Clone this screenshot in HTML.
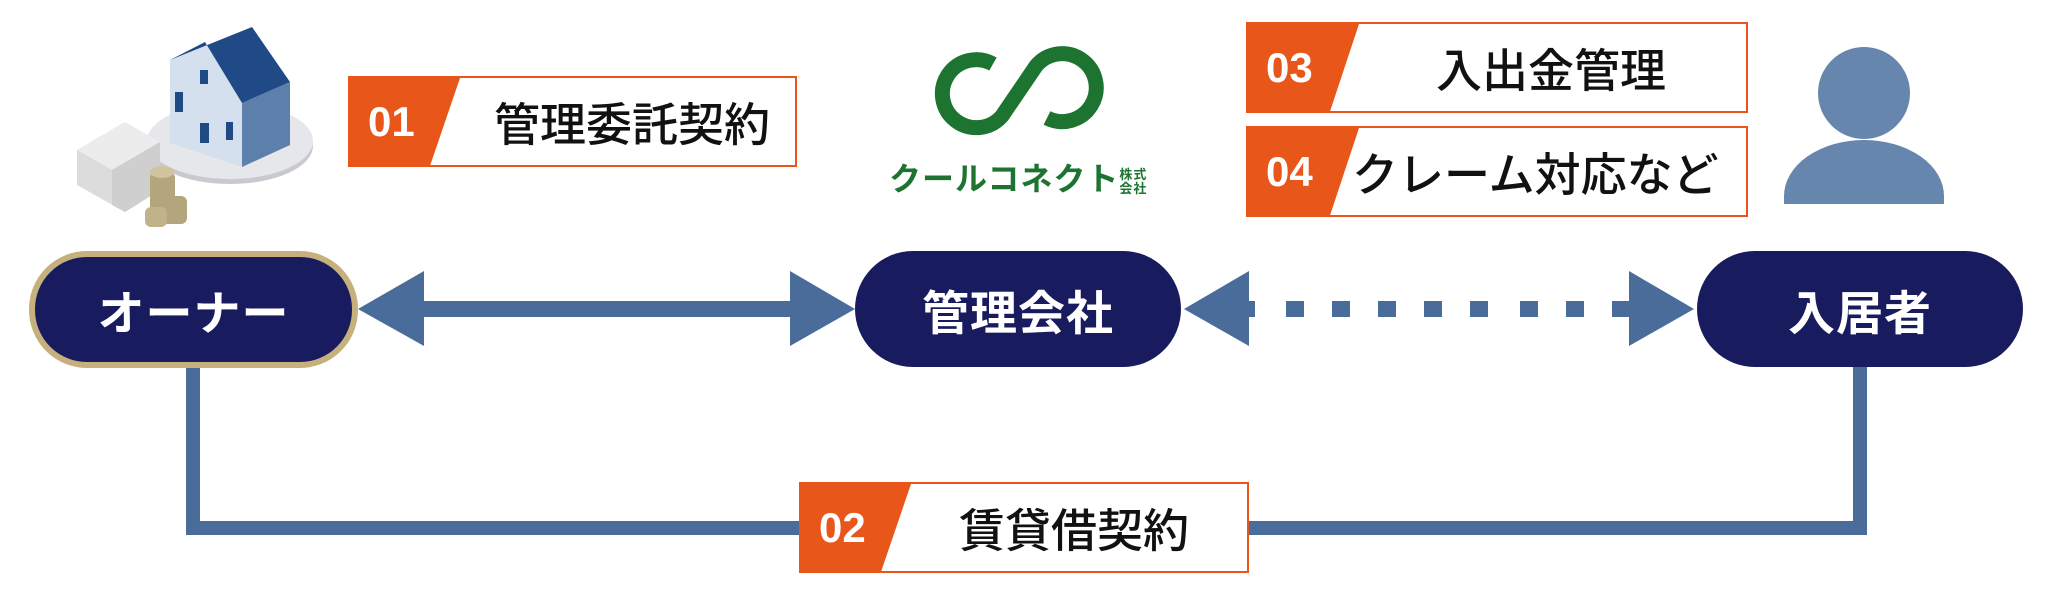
<!DOCTYPE html>
<html><head><meta charset="utf-8"><style>
*{margin:0;padding:0;box-sizing:border-box}
body{width:2048px;height:591px;background:#fff;position:relative;overflow:hidden;font-family:"Liberation Sans","Noto Sans CJK JP",sans-serif}
.pill{position:absolute;background:#181c5e;border-radius:58px;color:#fff;font-weight:bold;font-size:47px;display:flex;align-items:center;justify-content:center;letter-spacing:1px}
.box{position:absolute;border:2px solid #e8561a;background:#fff;overflow:hidden}
.num{position:absolute;left:0;top:0;bottom:0;background:#e8561a;color:#fff;font-weight:bold;font-size:42px;display:flex;align-items:center;padding-left:18px}
.lbl{position:absolute;top:0;bottom:0;display:flex;align-items:center;font-size:46px;color:#111;white-space:nowrap;font-weight:500}
</style></head><body>
<svg width="2048" height="591" style="position:absolute;left:0;top:0">
 <ellipse cx="230" cy="146" rx="83" ry="38" fill="#c9cace"/>
 <ellipse cx="230" cy="141" rx="83" ry="38" fill="#e6e7ea"/>
 <polygon points="170,60 205,42 242,103 242,167 170,143" fill="#d5e0ee"/>
 <polygon points="242,103 290,82 290,145 242,167" fill="#5c7fab"/>
 <polygon points="170,60 252,27 290,82 242,103 205,42" fill="#1f4a85"/>
 <rect x="200" y="70" width="8" height="14" fill="#1f4a85"/>
 <rect x="175" y="92" width="8" height="20" fill="#1f4a85"/>
 <rect x="200" y="123" width="9" height="20" fill="#1f4a85"/>
 <rect x="226" y="122" width="7" height="18" fill="#1f4a85"/>
 <polygon points="77,150 125,122 160,142 160,190 125,212 77,185" fill="#dcdcdc"/>
 <polygon points="77,150 125,122 160,142 112,170" fill="#ececec"/>
 <polygon points="112,170 160,142 160,190 125,212 112,205" fill="#cfcfcf"/>
 <rect x="150" y="172" width="25" height="52" rx="6" fill="#b3a57c"/>
 <ellipse cx="162" cy="172" rx="12" ry="6" fill="#d1c59e"/>
 <rect x="165" y="196" width="22" height="28" rx="6" fill="#b3a57c"/>
 <rect x="145" y="207" width="22" height="20" rx="6" fill="#c0b38a"/>
 <!-- logo -->
 <path d="M 993 64 A 34 34 0 1 0 1002 116 L 1036 66 A 34 34 0 1 1 1047 118" fill="none" stroke="#1d7430" stroke-width="15"/>
 <rect x="420" y="301" width="375" height="16" fill="#4a6c9b"/>
 <polygon points="358,309 424,271 424,346" fill="#4a6c9b"/>
 <polygon points="855,309 790,271 790,346" fill="#4a6c9b"/>
 <polygon points="1184,309 1249,271 1249,346" fill="#4a6c9b"/>
 <rect x="1245" y="301" width="10" height="16" fill="#4a6c9b"/>
 <g fill="#4a6c9b">
  <rect x="1286" y="301" width="18" height="16"/><rect x="1332" y="301" width="18" height="16"/>
  <rect x="1378" y="301" width="18" height="16"/><rect x="1424" y="301" width="18" height="16"/>
  <rect x="1470" y="301" width="18" height="16"/><rect x="1520" y="301" width="18" height="16"/>
  <rect x="1566" y="301" width="18" height="16"/><rect x="1612" y="301" width="20" height="16"/>
 </g>
 <polygon points="1694,309 1629,271 1629,346" fill="#4a6c9b"/>
 <polyline points="193,366 193,528 1860,528 1860,366" fill="none" stroke="#4a6c9b" stroke-width="14"/>
 <ellipse cx="1864" cy="93" rx="46" ry="46" fill="#6786ad"/>
 <path d="M1784 204 L1784 196 A80 56 0 0 1 1944 196 L1944 204 Z" fill="#6786ad"/>
</svg>
<div style="position:absolute;left:889px;top:154px;font-size:32px;font-weight:bold;color:#1d7430;letter-spacing:1px">クールコネクト<span style="font-size:13px;display:inline-block;width:30px;line-height:14px;vertical-align:middle">株式会社</span></div>

<div class="pill" style="left:29px;top:251px;width:329px;height:117px;border:6px solid #c6b07c">オーナー</div>
<div class="pill" style="left:855px;top:251px;width:326px;height:116px">管理会社</div>
<div class="pill" style="left:1697px;top:251px;width:326px;height:116px">入居者</div>

<div class="box" style="left:348px;top:76px;width:449px;height:91px"><div class="num" style="width:110px;clip-path:polygon(0 0,100% 0,73% 100%,0 100%)">01</div><div class="lbl" style="left:144px">管理委託契約</div></div>
<div class="box" style="left:1246px;top:22px;width:502px;height:91px"><div class="num" style="width:111px;clip-path:polygon(0 0,100% 0,74% 100%,0 100%)">03</div><div class="lbl" style="left:188px">入出金管理</div></div>
<div class="box" style="left:1246px;top:126px;width:502px;height:91px"><div class="num" style="width:111px;clip-path:polygon(0 0,100% 0,74% 100%,0 100%)">04</div><div class="lbl" style="left:104px">クレーム対応など</div></div>
<div class="box" style="left:799px;top:482px;width:450px;height:91px"><div class="num" style="width:110px;clip-path:polygon(0 0,100% 0,73% 100%,0 100%)">02</div><div class="lbl" style="left:158px">賃貸借契約</div></div>
</body></html>
